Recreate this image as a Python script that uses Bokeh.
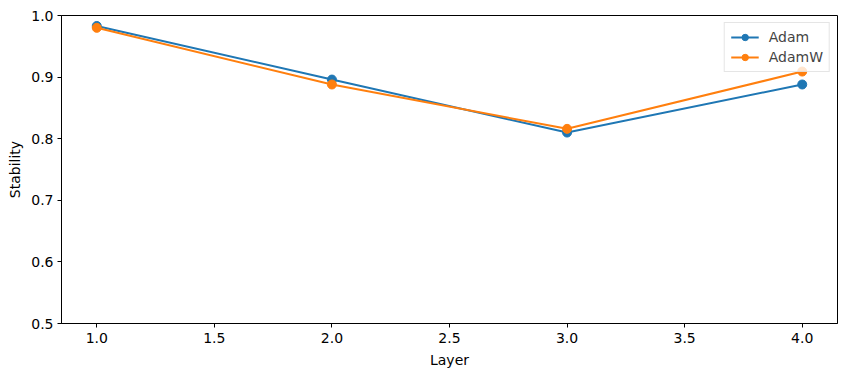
from bokeh.plotting import figure
from bokeh.models import FixedTicker, PrintfTickFormatter, Range1d
from bokeh.embed import file_html
from bokeh.resources import INLINE

layers = [1, 2, 3, 4]
adam = [0.983, 0.896, 0.810, 0.888]
adamw = [0.980, 0.888, 0.816, 0.909]
x_ticks = [1.0, 1.5, 2.0, 2.5, 3.0, 3.5, 4.0]
y_ticks = [0.5, 0.6, 0.7, 0.8, 0.9, 1.0]

p = figure(frame_width=776, frame_height=308, output_backend="svg", toolbar_location=None,
           x_range=Range1d(0.85, 4.15), y_range=Range1d(0.5, 1.0),
           min_border_left=61, min_border_top=15, min_border_right=1, min_border_bottom=45)
p.grid.visible = False
p.outline_line_color = "black"
p.outline_line_width = 1
p.outline_line_alpha = 1
p.background_fill_color = "white"
p.border_fill_color = "white"

series = [("Adam", adam, "#1f77b4"), ("AdamW", adamw, "#ff7f0e")]
for name, vals, col in series:
    p.line(layers, vals, line_color=col, line_width=2, legend_label=name)
    p.scatter(layers, vals, size=9, fill_color=col, line_color=col, legend_label=name)

p.xaxis.ticker = FixedTicker(ticks=x_ticks)
p.yaxis.ticker = FixedTicker(ticks=y_ticks)
p.xaxis.formatter = PrintfTickFormatter(format="%.1f")
p.yaxis.formatter = PrintfTickFormatter(format="%.1f")
for ax in [p.xaxis[0], p.yaxis[0]]:
    ax.major_tick_in = 0
    ax.major_tick_out = 4
    ax.minor_tick_in = 0
    ax.minor_tick_out = 0
    ax.axis_line_color = "black"
    ax.major_tick_line_color = "black"
    ax.major_label_text_font = "DejaVu Sans"
    ax.major_label_text_font_size = "14px"
    ax.major_label_text_color = "black"
    ax.axis_label_text_font = "DejaVu Sans"
    ax.axis_label_text_font_size = "14px"
    ax.axis_label_text_font_style = "normal"
    ax.axis_label_text_color = "black"
p.xaxis.major_label_standoff = 5
p.yaxis.major_label_standoff = 4
p.xaxis.axis_label = "Layer"
p.yaxis.axis_label = "Stability"
p.xaxis.axis_label_standoff = 6
p.yaxis.axis_label_standoff = 5

lg = p.legend[0]
lg.location = "top_right"
lg.margin = 7
lg.border_line_color = "#cccccc"
lg.border_line_width = 1
lg.background_fill_alpha = 0.8
lg.label_text_font = "DejaVu Sans"
lg.label_text_font_size = "14px"
lg.glyph_width = 28
lg.glyph_height = 16
lg.label_height = 16
lg.spacing = 4
lg.padding = 6
lg.label_standoff = 10

open("out.html", "w").write(file_html(p, INLINE))
